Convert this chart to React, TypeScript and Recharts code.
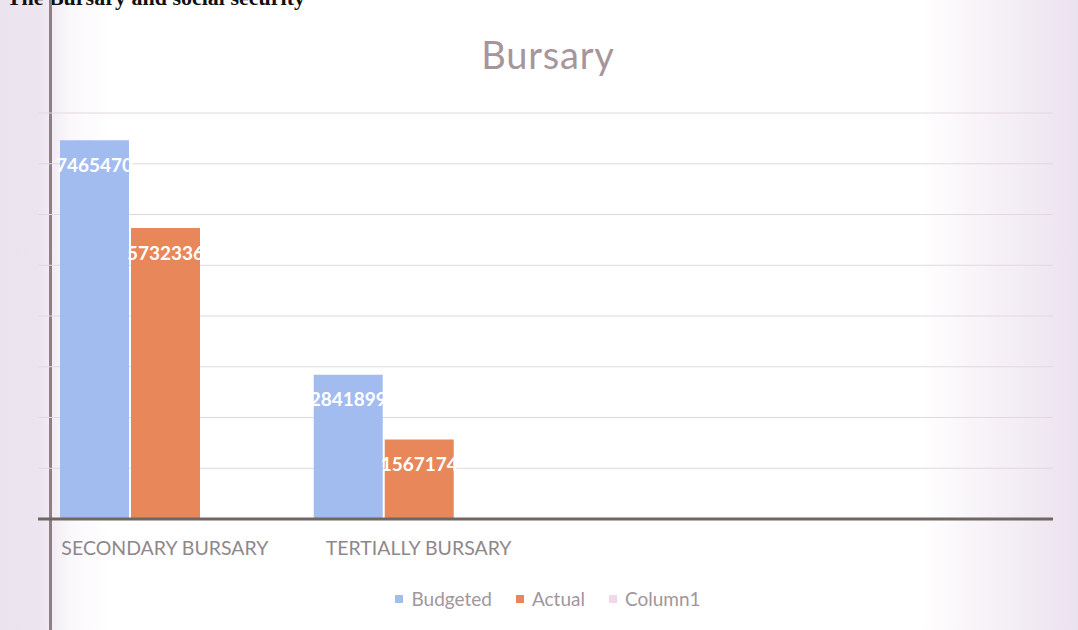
import { BarChart, Bar, XAxis, YAxis, CartesianGrid, Legend, LabelList } from "recharts"

const categories = ["SECONDARY BURSARY", "TERTIALLY BURSARY", " ", "  "]
const budgeted = [7465470, 2841899, null, null]
const actual = [5732336, 1567174, null, null]
const column1 = [null, null, null, null]
const seriesNames = ["Budgeted", "Actual", "Column1"]
const yTicks = [0, 1000000, 2000000, 3000000, 4000000, 5000000, 6000000, 7000000, 8000000]

const data = categories.map((name, i) => ({
    name,
    Budgeted: budgeted[i],
    Actual: actual[i],
    Column1: column1[i],
}))

const FONT = "Lato, 'Open Sans', sans-serif"

const BarLabel = (props: any) => {
    const { x, y, width, value } = props
    if (value == null) return null
    return (
        <text
            x={x + width / 2}
            y={y + 24}
            textAnchor="middle"
            dominantBaseline="central"
            fill="#ffffff"
            fontFamily={FONT}
            fontWeight={700}
            fontSize={19}
        >
            {value}
        </text>
    )
}

const LegendContent = (props: any) => {
    const items = [...(props.payload || [])].sort(
        (a: any, b: any) => seriesNames.indexOf(a.value) - seriesNames.indexOf(b.value)
    )
    return (
        <div style={{ display: "flex", justifyContent: "center", gap: 24, fontFamily: FONT, fontSize: 19, color: "#a0969b", paddingLeft: 18 }}>
            {items.map((it: any) => (
                <div key={it.value} style={{ display: "flex", alignItems: "center" }}>
                    <span style={{ width: 8, height: 8, background: it.color, display: "inline-block", marginRight: 8 }} />
                    {it.value}
                </div>
            ))}
        </div>
    )
}

export default function App() {
    return (
        <div
            style={{
                position: "absolute",
                left: 0,
                top: 0,
                width: 1078,
                height: 630,
                overflow: "hidden",
                background:
                    "linear-gradient(to right, #ebe3ee 0px, #ece4ef 38px, #faf8fb 70px, #ffffff 110px, #ffffff 920px, #f5f0f6 1000px, #ebe2ef 1078px)",
            }}
        >
            <div
                style={{
                    position: "absolute",
                    right: 1078 - 305,
                    top: -15,
                    fontFamily: "'Liberation Serif', serif",
                    fontWeight: 700,
                    fontSize: 22,
                    color: "#111",
                    whiteSpace: "nowrap",
                }}
            >
                The Bursary and social security
            </div>
            <div style={{ position: "absolute", left: 49, top: 0, width: 3, height: 630, background: "#8d7f83" }} />
            <div
                style={{
                    position: "absolute",
                    left: 9,
                    width: 1078,
                    top: 31,
                    textAlign: "center",
                    fontFamily: FONT,
                    fontSize: 38,
                    color: "#a6969c",
                    letterSpacing: 0.8,
                }}
            >
                Bursary
            </div>
            <BarChart
                width={1078}
                height={630}
                data={data}
                margin={{ top: 113, right: 25, bottom: 71, left: 38 }}
                barCategoryGap={22}
                barGap={2}
                style={{ position: "absolute", left: 0, top: 0 }}
            >
                <CartesianGrid vertical={false} stroke="#e3d8df" />
                <YAxis hide domain={[0, 8000000]} ticks={yTicks} />
                <XAxis
                    dataKey="name"
                    height={40}
                    tickLine={false}
                    tickMargin={16}
                    axisLine={{ stroke: "#6f6763", strokeWidth: 3 }}
                    tick={{ fill: "#8f888b", fontSize: 19.5, fontFamily: FONT }}
                />
                <Legend
                    verticalAlign="middle"
                    align="center"
                    wrapperStyle={{ top: 587, left: 0, width: 1078 }}
                    content={<LegendContent />}
                />
                <Bar dataKey="Budgeted" fill="#a3bcf0" isAnimationActive={false}>
                    <LabelList dataKey="Budgeted" content={<BarLabel />} />
                </Bar>
                <Bar dataKey="Actual" fill="#e8875a" isAnimationActive={false}>
                    <LabelList dataKey="Actual" content={<BarLabel />} />
                </Bar>
                <Bar dataKey="Column1" fill="#f2d6ea" isAnimationActive={false} />
            </BarChart>
        </div>
    )
}
